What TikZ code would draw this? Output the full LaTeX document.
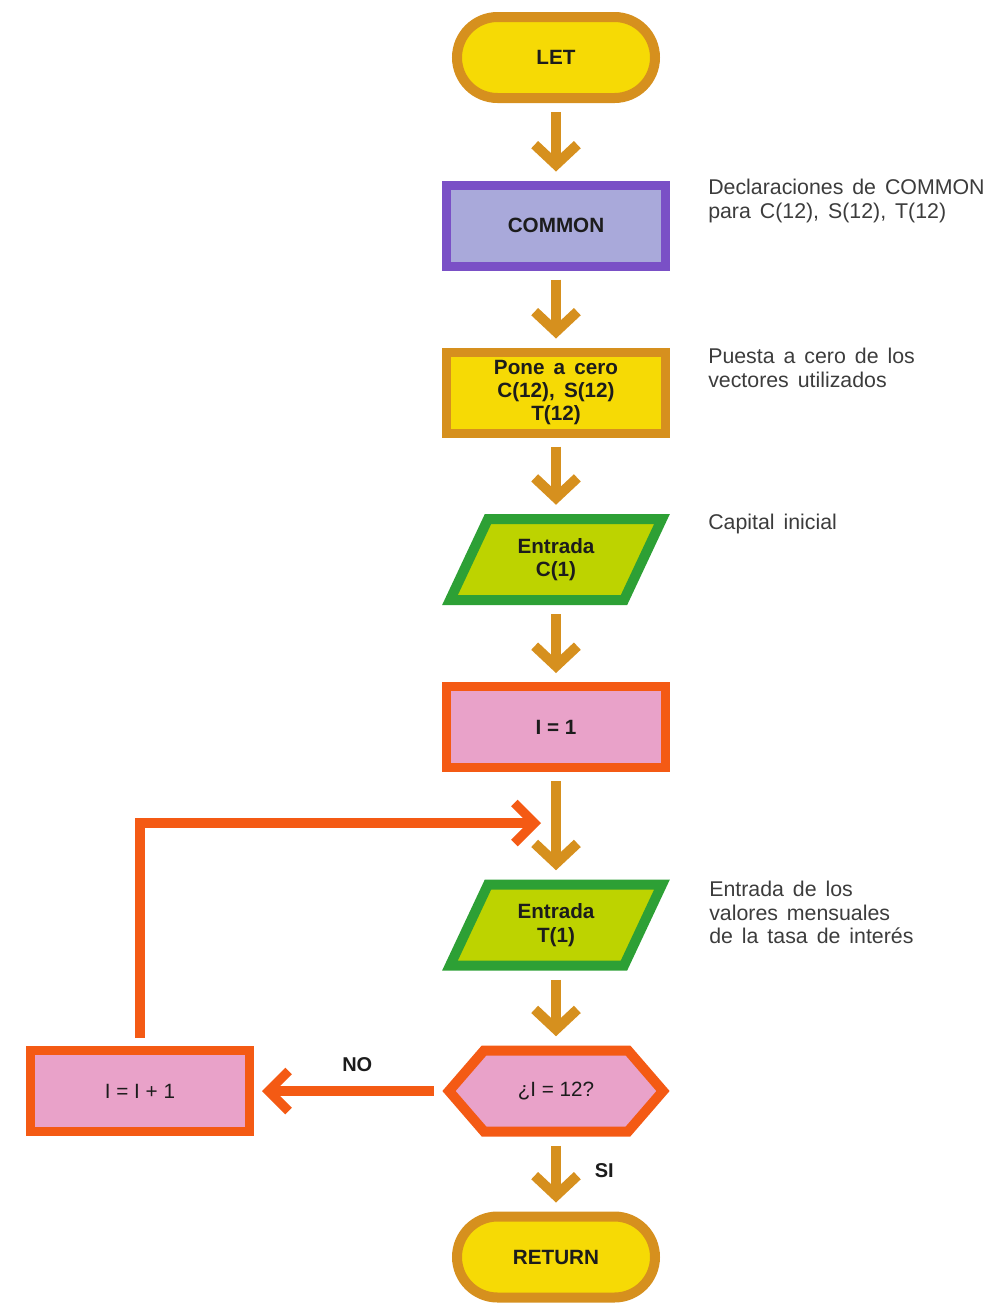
\documentclass[tikz,border=0pt]{standalone}
\usepackage{fontspec}
\setmainfont{Liberation Sans}
\usetikzlibrary{arrows.meta,backgrounds}

\definecolor{ochre}{HTML}{D6901E}
\definecolor{lemon}{HTML}{F6DA05}
\definecolor{violet}{HTML}{7A50C6}
\definecolor{lavender}{HTML}{A9A9DA}
\definecolor{leaf}{HTML}{2DA035}
\definecolor{lime}{HTML}{BDD300}
\definecolor{vermilion}{HTML}{F45A14}
\definecolor{rose}{HTML}{E9A2C9}
\definecolor{ink}{HTML}{1C1C1C}
\definecolor{note}{HTML}{3C3C3C}

\tikzset{
  label font/.style={text=ink, font=\fontsize{15.5}{17.5}\selectfont\bfseries},
  formula/.style={text=ink, font=\fontsize{15.5}{17.5}\selectfont},
  box/.style={rectangle, line width=6.75pt, minimum width=164.25pt,
    minimum height=60.75pt, inner sep=0pt, align=center, label font},
  terminal/.style={box, draw=ochre, fill=lemon, line width=7.5pt,
    minimum width=148.5pt, rounded corners=30.375pt},
  common box/.style={box, draw=violet, fill=lavender},
  reset box/.style={box, draw=ochre, fill=lemon},
  counter box/.style={box, draw=vermilion, fill=rose},
  % invisible carrier nodes for shapes drawn by hand
  carrier/.style={rectangle, inner sep=0pt, minimum width=171pt,
    minimum height=68.25pt, align=center},
  io shape/.style={draw=leaf, fill=lime, line width=7.5pt},
  test shape/.style={draw=vermilion, fill=rose, line width=7.5pt},
  flow/.style={draw=ochre, line width=7.5pt,
    -{Straight Barb[length=15pt, width=32pt, line cap=butt, line join=miter]},
    shorten <=6.75pt, shorten >=6.75pt},
  back flow/.style={draw=vermilion, line width=7pt,
    -{Straight Barb[length=15pt, width=30pt, line cap=butt, line join=miter]}},
  side note/.style={anchor=north west, inner sep=0pt, align=left, text=note,
    font=\fontsize{16}{17.5}\selectfont,
    execute at begin node={\spaceskip=0.42em plus 0.1em\relax}},
  tag/.style={text=ink, font=\fontsize{15}{17}\selectfont\bfseries}
}

\begin{document}
\begin{tikzpicture}[x=0.75pt, y=-0.75pt]
  \useasboundingbox (0,0) rectangle (1002,1304);

  % main column
  \node[terminal]   (let)    at (556,57.5)  {LET};
  \node[common box] (common) at (556,225.5) {COMMON};
  \node[reset box]  (reset)  at (556,392.5) {Pone\, a\, cero\\C(12),\, S(12)\\T(12)};
  \node[carrier, label font] (readc) at (556,559.5) {Entrada\\C(1)};
  \node[counter box] (init)  at (556,727)   {I = 1};
  \node[carrier, label font] (readt) at (556,925)   {Entrada\\T(1)};
  \node[carrier, formula]    (test)  at (556,1091) {¿I = 12?};
  \node[terminal]   (ret)    at (556,1257)  {RETURN};
  \node[counter box, formula] (inc) at (140,1091) {I = I + 1};

  % parallelograms and hexagon behind their labels
  \begin{scope}[on background layer]
    \foreach \n in {readc,readt}
      \draw[io shape] (\n) ++(-68,-40.5) -- ++(174,0) -- ++(-38,81)
        -- ++(-174,0) -- cycle;
    \draw[test shape] (test) ++(-107,0) -- ++(35,-40.5) -- ++(144,0)
      -- ++(35,40.5) -- ++(-35,40.5) -- ++(-144,0) -- cycle;
  \end{scope}

  % connectors
  \draw[flow] (let)    -- (common);
  \draw[flow] (common) -- (reset);
  \draw[flow] (reset)  -- (readc);
  \draw[flow] (readc)  -- (init);
  \draw[flow] (init)   -- (readt);
  \draw[flow] (readt)  -- (test);
  \draw[flow] (test)   -- node[tag, right=22pt, pos=0.45] (si) {SI} (ret);

  \draw[back flow, shorten <=6pt, shorten >=6pt] (test.west) -- (inc.east)
    node[tag, pos=0.45, above=8pt] (no) {NO};
  \coordinate (merge) at (541,823);
  \draw[back flow, shorten <=6pt] (inc.north) |- (merge);

  % side notes
  \node[side note] (n1) at (708,179) {Declaraciones de COMMON\\para C(12), S(12), T(12)};
  \node[side note] (n2) at (708,348) {Puesta a cero de los\\vectores utilizados};
  \node[side note] (n3) at (708,514) {Capital inicial};
  \node[side note] (n4) at (709,881) {Entrada de los\\valores mensuales\\de la tasa de interés};
\end{tikzpicture}
\end{document}
